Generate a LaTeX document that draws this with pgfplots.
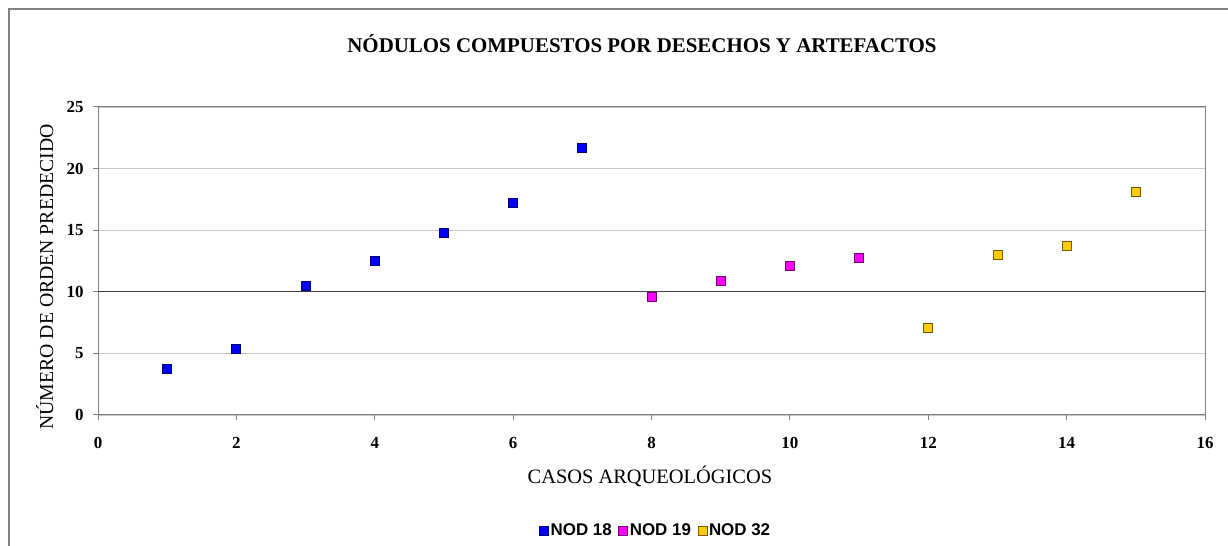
\documentclass[border=0pt]{standalone}
\usepackage{fontspec}
\setmainfont{Liberation Serif}
\newfontfamily\arial{Liberation Sans}
\usepackage{pgfplots}
\pgfplotsset{compat=1.18}
\definecolor{nodblue}{RGB}{0,0,255}
\definecolor{nodmag}{RGB}{255,0,255}
\definecolor{nodgold}{RGB}{255,204,0}
\definecolor{gridgray}{RGB}{200,200,200}
\definecolor{axgray}{RGB}{128,128,128}
\begin{document}
\begin{tikzpicture}[x=1bp,y=1bp]
\path[use as bounding box] (0,0) rectangle (1228,546);
\draw[axgray, line width=1.2bp] (9,0) -- (9,537) -- (1228,537);
\node[font=\bfseries\fontsize{21}{24}\selectfont] at (642,502) {NÓDULOS COMPUESTOS POR DESECHOS Y ARTEFACTOS};
\begin{axis}[
  at={(98bp,131bp)}, anchor=south west,
  scale only axis, width=1107bp, height=308bp,
  xmin=0, xmax=16, ymin=0, ymax=25,
  xtick={0,2,...,16}, ytick={0,5,...,25},
  xtick pos=left, ytick pos=left,
  tick align=outside,
  major tick length=5bp,
  axis line style={axgray, line width=1bp},
  tick style={axgray, line width=1bp},
  ymajorgrids,
  grid style={gridgray, line width=1.3bp},
  /pgf/number format/assume math mode=true,
  ticklabel style={font=\bfseries\fontsize{17}{17}\selectfont},
  xticklabel style={yshift=-14bp},
  yticklabel style={xshift=-6bp},
  xlabel={CASOS ARQUEOLÓGICOS},
  ylabel={NÚMERO DE ORDEN PREDECIDO},
  xlabel style={font=\fontsize{20.5}{24}\selectfont, at={(axis description cs:0.4986,-0.198)}, anchor=center},
  ylabel style={font=\fontsize{19.8}{24}\selectfont, at={(axis description cs:-0.048,0.448)}, anchor=center},
  legend columns=3,
  legend style={at={(0.504,-0.376)}, anchor=center, draw=none,
    font=\arial\bfseries\fontsize{17}{19}\selectfont,
    /tikz/every even column/.append style={column sep=5bp},
    /tikz/every odd column/.append style={column sep=0bp}},
  legend image code/.code={\draw[#1] (0cm,0cm) plot coordinates {(0.15cm,0cm)};},
]
\addplot[black!75, line width=1.3bp, forget plot] coordinates {(0,10) (16,10)};
\addplot[only marks, mark=square*, mark size=4.5bp, mark options={fill=nodblue, draw=nodblue!45!black, line width=0.8bp}]
  coordinates {(1,3.73) (2,5.36) (3,10.47) (4,12.5) (5,14.77) (6,17.2) (7,21.67)};
\addlegendentry{NOD 18}
\addplot[only marks, mark=square*, mark size=4.5bp, mark options={fill=nodmag, draw=nodmag!45!black, line width=0.8bp}]
  coordinates {(8,9.58) (9,10.9) (10,12.09) (11,12.72)};
\addlegendentry{NOD 19}
\addplot[only marks, mark=square*, mark size=4.5bp, mark options={fill=nodgold, draw=nodgold!45!black, line width=0.8bp}]
  coordinates {(12,7.08) (13,13.02) (14,13.75) (15,18.08)};
\addlegendentry{NOD 32}
\end{axis}
\end{tikzpicture}
\end{document}
